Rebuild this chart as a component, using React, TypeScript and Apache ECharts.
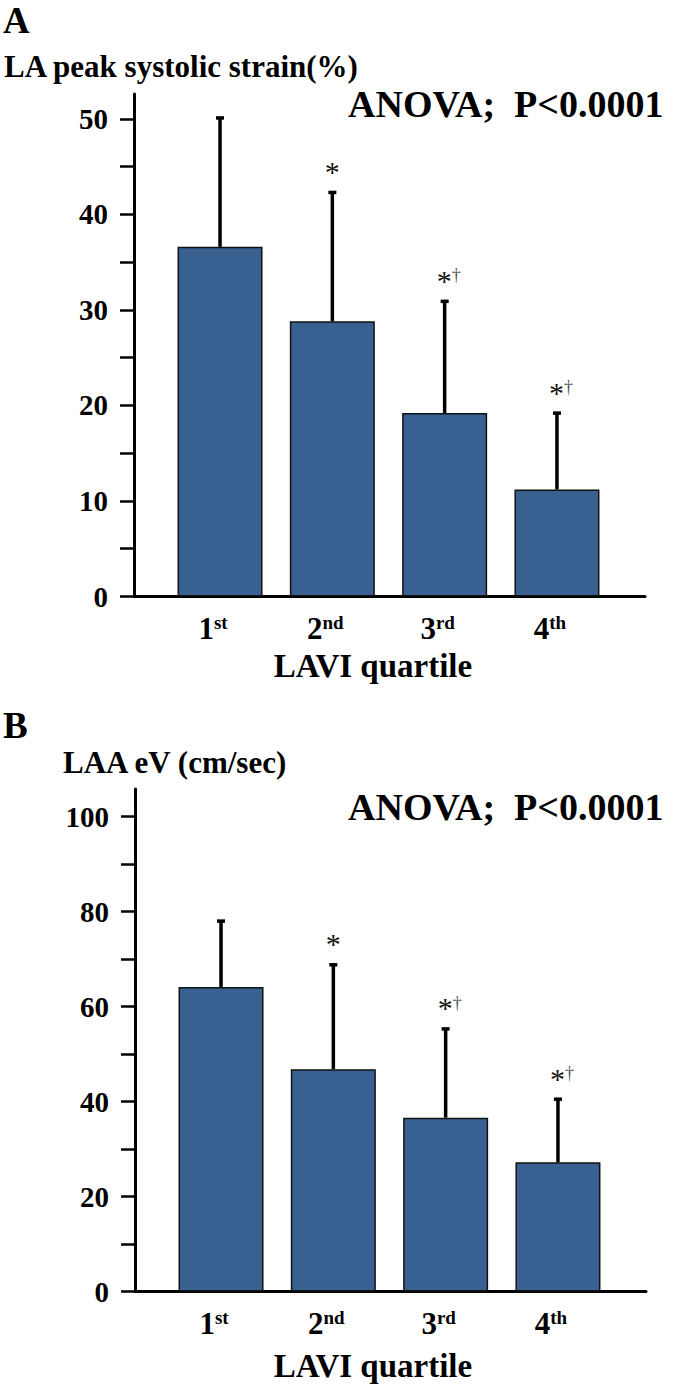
import React, { useEffect, useRef } from "react";
import * as echarts from "echarts";

// ---------- data ----------
const ordinals = ["1", "2", "3", "4"];
const suffixes = ["st", "nd", "rd", "th"];
const quartilePos = [1, 2, 3, 4];

const strainMean = [36.6, 28.8, 19.2, 11.2];
const strainSD = [13.6, 13.6, 11.8, 8.1];

const laaMean = [64.1, 46.8, 36.6, 27.2];
const laaSD = [14.1, 22.2, 18.9, 13.5];

const significance = ["", "*", "*†", "*†"];

const strainTicks = [0, 5, 10, 15, 20, 25, 30, 35, 40, 45, 50];
const strainLabels = [0, 10, 20, 30, 40, 50];
const laaTicks = [0, 10, 20, 30, 40, 50, 60, 70, 80, 90, 100];
const laaLabels = [0, 20, 40, 60, 80, 100];

const FONT = "'Liberation Serif', 'Times New Roman', serif";
const BAR_COLOR = "#386192";

function xAxisFor(gridIndex: number) {
  return {
    type: "value",
    gridIndex,
    min: 0.234,
    max: 4.784,
    splitLine: { show: false },
    axisTick: { show: false },
    axisLine: { show: true, onZero: false, lineStyle: { color: "#000", width: 3 } },
    axisLabel: {
      customValues: quartilePos,
      margin: 16,
      padding: [0, 14, 0, 0],
      formatter: (v: number) => {
        const i = Math.round(v) - 1;
        return `{n|${ordinals[i]}}{s|${suffixes[i]}}`;
      },
      rich: {
        n: { fontFamily: FONT, fontWeight: "bold", fontSize: 31, color: "#000", lineHeight: 32 },
        s: { fontFamily: FONT, fontWeight: "bold", fontSize: 19, color: "#000", lineHeight: 32, verticalAlign: "top", padding: [0, 0, 10, 0] },
      },
    },
  };
}

function yAxisFor(gridIndex: number, max: number, ticks: number[], labels: number[]) {
  return {
    type: "value",
    gridIndex,
    min: 0,
    max,
    splitLine: { show: false },
    axisLine: { show: true, lineStyle: { color: "#000", width: 3 } },
    axisTick: { show: true, customValues: ticks, length: 14, lineStyle: { color: "#000", width: 2.5 } },
    axisLabel: {
      customValues: labels,
      margin: 26,
      fontFamily: FONT,
      fontWeight: "bold",
      fontSize: 29,
      color: "#000",
    },
  };
}

function barSeries(idx: number, mean: number[]) {
  return {
    type: "bar",
    xAxisIndex: idx,
    yAxisIndex: idx,
    barWidth: 85,
    data: quartilePos.map((x, i) => [x, mean[i]]),
    itemStyle: { color: BAR_COLOR, borderColor: "#111", borderWidth: 1.5 },
    silent: true,
  };
}

function errSeries(idx: number, mean: number[], sd: number[]) {
  return {
    type: "custom",
    xAxisIndex: idx,
    yAxisIndex: idx,
    data: quartilePos.map((x, i) => [x, mean[i], sd[i]]),
    renderItem: (params: any, api: any) => {
      const x = api.value(0);
      const m = api.value(1);
      const s = api.value(2);
      const base = api.coord([x, m]);
      const top = api.coord([x, m + s]);
      const note = significance[params.dataIndex];
      const children: any[] = [
        { type: "line", shape: { x1: base[0], y1: base[1], x2: top[0], y2: top[1] }, style: { stroke: "#000", lineWidth: 3.5 } },
        { type: "line", shape: { x1: top[0] - 4, y1: top[1] + 1, x2: top[0] + 4, y2: top[1] + 1 }, style: { stroke: "#000", lineWidth: 3.5 } },
      ];
      if (note) {
        const txt = note.length > 1 ? `{a|*}{d|†}` : `{a|*}`;
        children.push({
          type: "text",
          x: top[0] + (note.length > 1 ? 4 : 0),
          y: top[1] - 6,
          style: {
            text: txt,
            align: "center",
            verticalAlign: "bottom",
            rich: {
              a: { fontFamily: FONT, fontSize: 30, fill: "#111", lineHeight: 28 },
              d: { fontFamily: FONT, fontSize: 18, fill: "#555", lineHeight: 28, verticalAlign: "top", padding: [0, 0, 6, 0] },
            },
          },
        });
      }
      return { type: "group", children };
    },
    z: 5,
  };
}

function txt(text: string, x: number, y: number, size: number, align = "left") {
  return {
    type: "text",
    x,
    y,
    style: {
      text,
      fontFamily: FONT,
      fontWeight: "bold",
      fontSize: size,
      fill: "#000",
      align,
      verticalAlign: "middle",
    },
  };
}

export default function App() {
  const ref = useRef<HTMLDivElement>(null);
  useEffect(() => {
    document.body.style.margin = "0";
    const chart = echarts.init(ref.current!, null, { renderer: "svg" });
    chart.setOption({
      animation: false,
      backgroundColor: "#fff",
      grid: [
        { left: 134, top: 94, width: 511, height: 502.5 },
        { left: 135, top: 789, width: 511, height: 502.5 },
      ],
      xAxis: [xAxisFor(0), xAxisFor(1)],
      yAxis: [
        yAxisFor(0, 52.6, strainTicks, strainLabels),
        yAxisFor(1, 105.8, laaTicks, laaLabels),
      ],
      series: [
        barSeries(0, strainMean),
        errSeries(0, strainMean, strainSD),
        barSeries(1, laaMean),
        errSeries(1, laaMean, laaSD),
      ],
      graphic: [
        txt("A", 3, 20, 37),
        txt("LA peak systolic strain(%)", 4, 66, 31),
        txt("ANOVA;  P<0.0001", 348, 104, 38),
        txt("LAVI quartile", 373, 666, 33, "center"),
        txt("B", 3, 725, 37),
        txt("LAA eV (cm/sec)", 63, 762, 31),
        txt("ANOVA;  P<0.0001", 348, 807, 38),
        txt("LAVI quartile", 373, 1366, 33, "center"),
      ],
    });
    return () => chart.dispose();
  }, []);
  return (
    <div
      ref={ref}
      style={{ position: "absolute", left: 0, top: 0, width: 689, height: 1386, background: "#fff" }}
    />
  );
}
